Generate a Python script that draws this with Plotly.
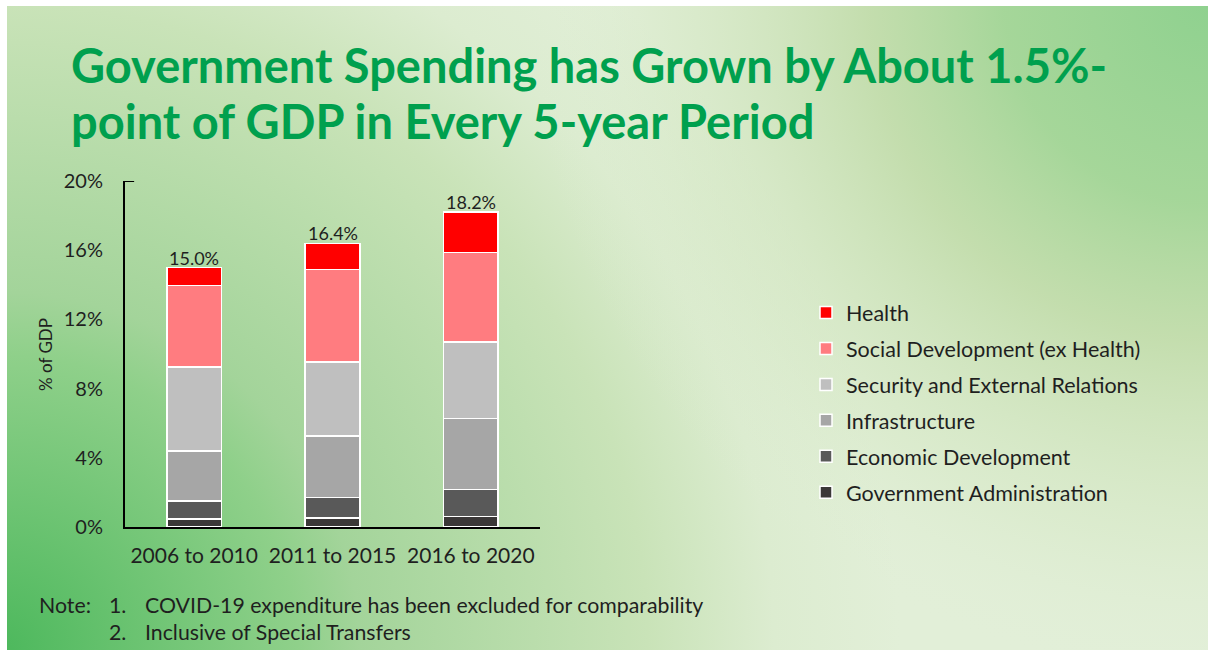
import base64
import plotly.graph_objects as go

W, H = 1208, 652

periods = ["2006 to 2010", "2011 to 2015", "2016 to 2020"]
gov_admin = [0.45, 0.52, 0.60]
econ_dev = [1.05, 1.18, 1.58]
infrastructure = [2.89, 3.57, 4.10]
security = [4.85, 4.26, 4.41]
social_dev = [4.73, 5.35, 5.19]
health = [1.03, 1.52, 2.32]
totals = [15.0, 16.4, 18.2]

series_names = ["Government Administration", "Economic Development", "Infrastructure",
                "Security and External Relations", "Social Development (ex Health)", "Health"]
series_values = [gov_admin, econ_dev, infrastructure, security, social_dev, health]
series_colors = ["#3b3838", "#595959", "#a6a6a6", "#bfbfbf", "#ff7c80", "#ff0000"]

y_ticks = [0, 4, 8, 12, 16, 20]
y_tick_text = ["0%", "4%", "8%", "12%", "16%", "20%"]

FONT = "Lato"
TXT = "#1f1f1f"

# plot area in pixels
L, R, T, B = 125, W - 540, 181, H - 527
PW, PH = W - L - R, H - T - B


def px(x):
    return (x - L) / PW


def py(y):
    return (H - B - y) / PH


svg = f'''<svg xmlns="http://www.w3.org/2000/svg" width="{W}" height="{H}" viewBox="0 0 {W} {H}">
<defs>
<radialGradient id="bl" gradientUnits="userSpaceOnUse" cx="0" cy="{H}" r="900">
<stop offset="0" stop-color="#4cb85c"/>
<stop offset="0.33" stop-color="#8fd08a"/>
<stop offset="0.4" stop-color="#a3d49a"/>
<stop offset="0.72" stop-color="#c9e3b8"/>
<stop offset="0.86" stop-color="#dcecd0"/>
<stop offset="1" stop-color="#e2efd8"/>
</radialGradient>
<radialGradient id="tr" gradientUnits="userSpaceOnUse" cx="{W}" cy="0" r="680">
<stop offset="0" stop-color="#8fd18f" stop-opacity="1"/>
<stop offset="0.3" stop-color="#a2d596" stop-opacity="0.95"/>
<stop offset="0.5" stop-color="#bcd9a3" stop-opacity="0.8"/>
<stop offset="0.8" stop-color="#d0e5bd" stop-opacity="0.35"/>
<stop offset="1" stop-color="#e2efd8" stop-opacity="0"/>
</radialGradient>
</defs>
<rect x="0" y="0" width="{W}" height="{H}" fill="#ffffff"/>
<rect x="7" y="6" width="{W-7}" height="{H-8}" fill="url(#bl)"/>
<rect x="7" y="6" width="{W-7}" height="{H-8}" fill="url(#tr)"/>
</svg>'''
bg_src = "data:image/svg+xml;base64," + base64.b64encode(svg.encode()).decode()

fig = go.Figure()
n = len(series_names)
for i, (name, vals, col) in enumerate(zip(series_names, series_values, series_colors)):
    fig.add_trace(go.Bar(
        x=periods, y=vals, name=name, legendgroup=name, legendrank=n - i,
        marker=dict(color=col, line=dict(color="#ffffff", width=1.5)),
        hoverinfo="skip",
    ))

annotations = []
for p, t in zip(periods, totals):
    annotations.append(dict(x=p, y=t, xref="x", yref="y", text=f"{t:.1f}%", showarrow=False,
                            yanchor="bottom", yshift=-3, font=dict(family=FONT, size=18, color=TXT)))

NOTE = dict(family=FONT, size=21.3, color=TXT)
annotations += [
    dict(x=px(69), y=py(65), xref="paper", yref="paper", xanchor="left", yanchor="middle",
         text="<b>Government Spending has Grown by About 1.5%-</b>", showarrow=False,
         font=dict(family=FONT, size=47, color="#00a04e")),
    dict(x=px(69), y=py(121), xref="paper", yref="paper", xanchor="left", yanchor="middle",
         text="<b>point of GDP in Every 5-year Period</b>", showarrow=False,
         font=dict(family=FONT, size=47, color="#00a04e")),
    dict(x=px(45), y=py(355), xref="paper", yref="paper", xanchor="center", yanchor="middle",
         text="% of GDP", textangle=-90, showarrow=False,
         font=dict(family=FONT, size=17, color=TXT)),
    dict(x=px(37), y=py(605), xref="paper", yref="paper", xanchor="left", yanchor="middle",
         text="Note:", showarrow=False, font=NOTE),
    dict(x=px(107), y=py(605), xref="paper", yref="paper", xanchor="left", yanchor="middle",
         text="1.", showarrow=False, font=NOTE),
    dict(x=px(143), y=py(605), xref="paper", yref="paper", xanchor="left", yanchor="middle",
         text="COVID-19 expenditure has been excluded for comparability", showarrow=False,
         font=NOTE),
    dict(x=px(107), y=py(632), xref="paper", yref="paper", xanchor="left", yanchor="middle",
         text="2.", showarrow=False, font=NOTE),
    dict(x=px(143), y=py(632), xref="paper", yref="paper", xanchor="left", yanchor="middle",
         text="Inclusive of Special Transfers", showarrow=False, font=NOTE),
]

fig.update_layout(
    width=W, height=H,
    margin=dict(l=L, r=R, t=T, b=B, pad=0),
    paper_bgcolor="#ffffff", plot_bgcolor="rgba(0,0,0,0)",
    barmode="stack", bargap=0.605,
    font=dict(family=FONT, color=TXT),
    showlegend=True,
    legend=dict(x=px(806), y=py(292), xanchor="left", yanchor="top",
                traceorder="grouped", tracegroupgap=5,
                bgcolor="rgba(0,0,0,0)", font=dict(family=FONT, size=21.5, color=TXT)),
    images=[dict(source=bg_src, xref="paper", yref="paper", x=-L / PW, y=1 + T / PH,
                 sizex=W / PW, sizey=H / PH, xanchor="left", yanchor="top",
                 sizing="stretch", layer="below")],
    annotations=annotations,
    xaxis=dict(showline=True, linecolor="#000000", linewidth=2, ticks="", showgrid=False,
               tickfont=dict(family=FONT, size=21, color=TXT), ticklabelstandoff=9,
               fixedrange=True),
    yaxis=dict(range=[0, 20], tickvals=y_ticks, ticktext=y_tick_text, showline=True,
               linecolor="#000000", linewidth=2, ticks="", showgrid=False, zeroline=False,
               tickfont=dict(family=FONT, size=20, color=TXT), ticklabelstandoff=16,
               fixedrange=True),
    shapes=[dict(type="line", xref="x domain", yref="y", x0=0, x1=0.022, y0=20, y1=20,
                 line=dict(color="#000000", width=2))],
)

fig.write_html("out.html", config={"displayModeBar": False},
               post_script="document.body.style.margin='0';document.body.style.overflow='hidden';")
